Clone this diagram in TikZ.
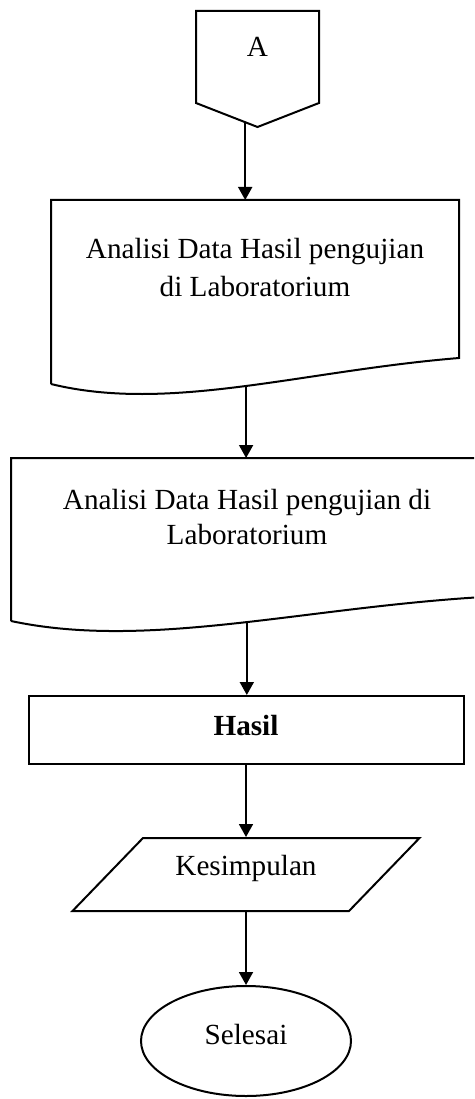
\documentclass[tikz,border=0pt]{standalone}
\usepackage{fontspec}
\setmainfont{Liberation Serif}
\usepackage{tikz}
\usetikzlibrary{arrows.meta,shapes.geometric,calc}

\begin{document}
\begin{tikzpicture}[
  x=1pt, y=-1pt,
  line width=2pt,
  font=\fontsize{29.2}{35}\selectfont,
  body/.style={rectangle, draw=none, align=center, inner sep=0pt},
  procbox/.style={rectangle, draw, minimum width=435pt, minimum height=68pt,
                  inner sep=0pt, text depth=10pt},
  iobox/.style={trapezium, draw, trapezium left angle=46,
                trapezium right angle=134, trapezium stretches body,
                minimum width=347pt, inner sep=0pt,
                text height=37.5pt, text depth=35.5pt},
  endoval/.style={ellipse, draw, minimum width=210pt, minimum height=110pt,
                  inner sep=0pt, text depth=14pt},
  arrow/.style={-{Triangle[length=13pt,width=14pt]}, line width=1.8pt},
]
  \useasboundingbox (0,0) rectangle (474,1099);
  \clip (0,0) rectangle (474,1099);

  % text bodies, outlines are drawn round them below
  \node[body, minimum width=121pt, minimum height=69pt] (conA) at (257.5,46.5) {A};
  \node[body, minimum width=406pt, minimum height=133pt,
        font=\fontsize{29.2}{38}\selectfont] (doc1) at (255,267.5)
    {Analisi Data Hasil pengujian\\di Laboratorium};
  \node[body, minimum width=470pt, minimum height=117pt] (doc2) at (247,517.5)
    {Analisi Data Hasil pengujian di\\Laboratorium};

  \node[procbox] (hasil) at (246,730) {\textbf{Hasil}};
  \node[iobox] (kes) at (246,874.5) {Kesimpulan};
  \node[endoval] (selesai) at (246,1041) {Selesai};

  % off-page connector
  \draw (conA.north west) -- ([yshift=-21pt]conA.south west)
    -- coordinate[pos=0.8] (aout) ([yshift=-45pt]conA.south)
    -- ([yshift=-21pt]conA.south east) -- (conA.north east) -- cycle;

  % document shapes with wavy bottom
  \draw ([yshift=-49pt]doc1.south west) -- (doc1.north west)
    -- (doc1.north east) -- ([yshift=-23pt]doc1.south east)
    .. controls ($(doc1.south east)+(-158,36)$)
            and ($(doc1.south west)+(118,78)$)
    .. coordinate[pos=0.485] (doc1w) ([yshift=-49pt]doc1.south west);
  \draw ([yshift=-44pt]doc2.south west) -- (doc2.north west)
    -- (doc2.north east) -- ([yshift=-20pt]doc2.south east)
    .. controls ($(doc2.south east)+(-183,31)$)
            and ($(doc2.south west)+(136,73)$)
    .. coordinate[pos=0.463] (doc2w) ([yshift=-44pt]doc2.south west);

  \draw[arrow] (aout) -- (aout |- doc1.north);
  \draw[arrow] (doc1w) -- (doc1w |- doc2.north);
  \draw[arrow] (doc2w) -- (doc2w |- hasil.north);
  \draw[arrow] (hasil.south) -- (hasil.south |- kes.north);
  \draw[arrow] (kes.south) -- (kes.south |- selesai.north);

\end{tikzpicture}
\end{document}
